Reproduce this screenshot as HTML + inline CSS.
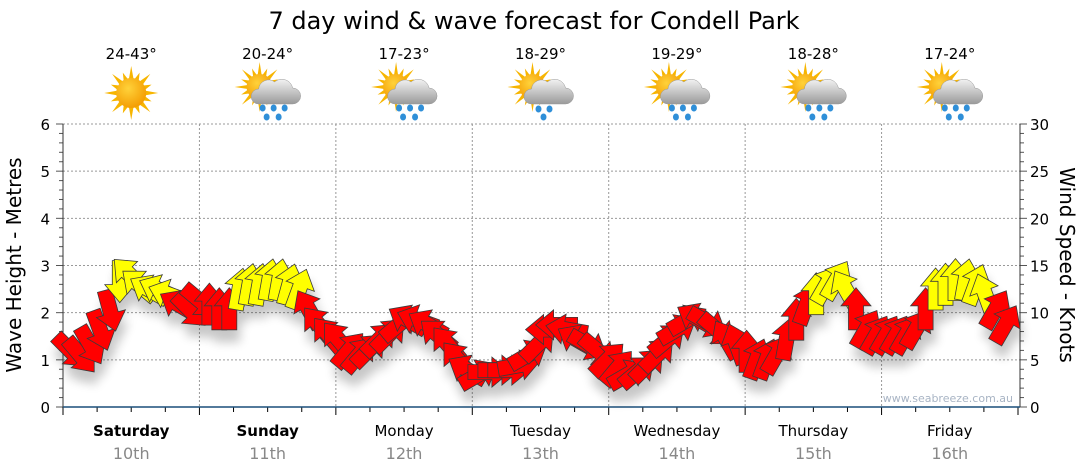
<!DOCTYPE html>
<html><head><meta charset="utf-8">
<style>
html,body{margin:0;padding:0;background:#fff;}
svg{display:block;font-family:"DejaVu Sans","Liberation Sans",sans-serif;}
</style></head>
<body>
<svg id="chart" width="1080" height="475" viewBox="0 0 1080 475" xmlns="http://www.w3.org/2000/svg">
<defs>
  <filter id="shadow" x="-50%" y="-50%" width="200%" height="200%">
    <feGaussianBlur in="SourceAlpha" stdDeviation="5"/>
    <feOffset dx="3" dy="12" result="b"/>
    <feComponentTransfer><feFuncA type="linear" slope="0.22"/></feComponentTransfer>
    <feMerge><feMergeNode/><feMergeNode in="SourceGraphic"/></feMerge>
  </filter>
  <radialGradient id="sunG" cx="40%" cy="35%" r="70%">
    <stop offset="0" stop-color="#ffd23a"/><stop offset="1" stop-color="#f39a00"/>
  </radialGradient>
  <linearGradient id="cloudG" x1="0" y1="0" x2="0" y2="1">
    <stop offset="0" stop-color="#f2f2f2"/><stop offset="1" stop-color="#9a9a9a"/>
  </linearGradient>
</defs>
<text x="534" y="29" text-anchor="middle" font-size="24" fill="#000">7 day wind &amp; wave forecast for Condell Park</text>
<g id="days"></g>
<g id="grid"></g>
<g id="axes"></g>
<text transform="translate(21,265) rotate(-90)" text-anchor="middle" font-size="20" fill="#000">Wave Height - Metres</text>
<text transform="translate(1060,265) rotate(90)" text-anchor="middle" font-size="20" fill="#000">Wind Speed - Knots</text>
<g id="arrows" filter="url(#shadow)"></g>
<text x="1013" y="402" text-anchor="end" font-size="11" fill="#a8b4c4">www.seabreeze.com.au</text>
</svg>
<script>
const dayNames = ["Saturday","Sunday","Monday","Tuesday","Wednesday","Thursday","Friday"];
const dayDates = ["10th","11th","12th","13th","14th","15th","16th"];
const dayBold = [true,true,false,false,false,false,false];
const dayTemps = ["24-43°","20-24°","17-23°","18-29°","19-29°","18-28°","17-24°"];
const dayIcons = ["sun","rain","rain","cloud","rain","rain","rain"];
const leftTicks = [0,1,2,3,4,5,6];
const rightTicks = [0,5,10,15,20,25,30];
// wind speed (knots), one per ~1.75h starting at hour 1.25
const windSpeed = [
 6.0,5.5,6.6,8.2,10.3,13.4,14.0,12.9,12.4,12.4,11.9,10.8,10.3,11.3,
 10.8,10.3,10.3,12.4,12.9,12.9,13.4,13.4,12.9,12.4,10.3,8.7,7.6,
 7.1,6.0,5.5,6.0,7.1,7.6,8.7,9.2,9.2,8.7,7.6,6.6,5.0,3.9,
 3.4,3.7,3.9,3.9,4.4,5.5,6.6,8.2,8.7,8.2,7.1,6.6,6.0,5.0,
 4.1,3.4,3.7,4.4,5.5,7.1,8.2,9.2,9.4,9.0,8.2,7.1,6.6,5.8,
 5.0,5.0,5.5,7.1,9.2,10.8,11.9,12.9,13.4,12.4,10.3,8.2,7.6,
 7.6,7.6,7.6,8.2,10.3,12.4,12.9,13.4,13.4,12.9,11.9,10.3,8.7
];
// direction arrow points toward (deg, 0=up, 90=right)
const windDir = [
 135,140,150,160,165,180,315,310,300,295,290,300,135,130,
 0,0,0,10,10,10,10,10,15,20,330,320,320,
 320,40,40,45,45,45,50,300,290,300,310,320,320,300,
 60,90,90,90,80,60,45,270,270,280,300,120,130,45,
 40,60,50,45,45,50,60,60,300,120,130,330,340,0,
 20,20,30,10,0,20,0,30,30,330,0,30,30,
 30,30,30,30,0,0,0,0,10,20,340,30,30
];
const NS="http://www.w3.org/2000/svg";
const X0=63, X1=1018, Y0=407, Y6=124, HOURS=168;
const xScale = h => X0 + h/HOURS*(X1-X0);
const yLeft = m => Y0 - m/6*(Y0-Y6);
const yRight = k => Y0 - k/30*(Y0-Y6);
function mk(tag, attrs, parent){const e=document.createElementNS(NS,tag);for(const k in attrs)e.setAttribute(k,attrs[k]);parent.appendChild(e);return e;}
const grid=document.getElementById('grid'), axes=document.getElementById('axes'), days=document.getElementById('days'), arrows=document.getElementById('arrows');
leftTicks.forEach(t=>{ if(t>0){const l=mk('line',{x1:X0,x2:1020,y1:yLeft(t),y2:yLeft(t),stroke:'#999','stroke-dasharray':'2,2','stroke-width':1},grid);
 
 }
 const tx=mk('text',{x:50,y:yLeft(t)+6,'text-anchor':'end','font-size':15,fill:'#000'},axes); tx.textContent=t;
 
 
});
rightTicks.forEach(t=>{const tx=mk('text',{x:1030,y:yRight(t)+6,'font-size':15,fill:'#000'},axes); tx.textContent=t;
 
 });
for(let v=0;v<=6.001;v+=0.2){const y=yLeft(v);const big=Math.abs(v-Math.round(v))<0.01;mk('line',{x1:big?56:59,x2:X0,y1:y,y2:y,stroke:'#555','stroke-width':1},axes);}
for(let k=0;k<=30;k++){const y=yRight(k);mk('line',{x1:1020,x2:k%5==0?1027:1024,y1:y,y2:y,stroke:'#555','stroke-width':1},axes);}
for(let d=0;d<=7;d++){const x=xScale(d*24);
 if(d>0&&d<7){const l=mk('line',{x1:x,x2:x,y1:124,y2:Y0,stroke:'#999','stroke-dasharray':'2,2'},grid);
 
 }
 mk('line',{x1:x,x2:x,y1:Y0,y2:Y0+8,stroke:'#000'},axes);}
for(let h=6;h<HOURS;h+=6){if(h%24){const x=xScale(h);mk('line',{x1:x,x2:x,y1:Y0,y2:Y0+5,stroke:'#000'},axes);}}
mk('line',{x1:X0,x2:X0,y1:124,y2:Y0,stroke:'#333'},axes);
mk('line',{x1:1020,x2:1020,y1:124,y2:Y0,stroke:'#333'},axes);
mk('line',{x1:X0,x2:1020,y1:Y0,y2:Y0,stroke:'#1a4f7a','stroke-width':1.5},axes);
function icon(g,cx,cy,type){
 const sx=type==='sun'?cx:cx-8, sy=type==='sun'?cy:cy-6, r=type==='sun'?15:13;
 for(let i=0;i<16;i++){const a=i*Math.PI/8, L=(i%2?r+7:r+12);
  const p=[[sx+Math.cos(a-0.17)*(r-1),sy+Math.sin(a-0.17)*(r-1)],[sx+Math.cos(a)*L,sy+Math.sin(a)*L],[sx+Math.cos(a+0.17)*(r-1),sy+Math.sin(a+0.17)*(r-1)]];
  mk('polygon',{points:p.map(q=>q.join(',')).join(' '),fill:'#f7b500'},g);}
 mk('circle',{cx:sx,cy:sy,r:r,fill:'url(#sunG)'},g);
 if(type!=='sun'){
  mk('path',{d:`M${cx-9} ${cy+11} h34 a8 8 0 0 0 0-16 a11 11 0 0 0-18-6 a10 10 0 0 0-16 7 a7.5 7.5 0 0 0 0 15z`,fill:'url(#cloudG)',stroke:'#999','stroke-width':0.5},g);
  if(type==='rain'){[[cx-5,cy+15],[cx+6,cy+15],[cx+17,cy+15],[cx-1,cy+24],[cx+11,cy+24]].forEach(p=>mk('ellipse',{cx:p[0],cy:p[1],rx:3,ry:3.5,fill:'#2f8fd8'},g));}
  else {[[cx-2,cy+16],[cx+9,cy+16],[cx+3,cy+24]].forEach(p=>mk('ellipse',{cx:p[0],cy:p[1],rx:3,ry:3.5,fill:'#2f8fd8'},g));}
 }
}
dayNames.forEach((n,i)=>{const cx=xScale(i*24+12);
 const g=mk('g',{},days);
 
 
 const t=mk('text',{x:cx,y:59,'text-anchor':'middle','font-size':15,fill:'#000'},g); t.textContent=dayTemps[i];
 
 
 const ig=mk('g',{},g);
 
 
 icon(ig,cx,93,dayIcons[i]);
 const dn=mk('text',{x:cx,y:436,'text-anchor':'middle','font-size':15,'font-weight':dayBold[i]?'bold':'normal',fill:'#000'},g); dn.textContent=n;
 
 
 const dd=mk('text',{x:cx,y:459,'text-anchor':'middle','font-size':16,fill:'#888'},g); dd.textContent=dayDates[i];
 
 
});
const arrowPts="0,-22 15,-4 7.5,-4 7.5,20 -7.5,20 -7.5,-4 -15,-4";
windSpeed.forEach((k,i)=>{
 const h=1.25+i*1.75; const x=xScale(h), y=yRight(k);
 const p=mk('polygon',{points:arrowPts,transform:`translate(${x.toFixed(1)},${y.toFixed(1)}) rotate(${windDir[i]})`,fill:k>=11.5?'#ffff00':'#ff0000',stroke:'#3a3a3a','stroke-width':0.8,'stroke-linejoin':'miter'},arrows);
 
 
});
</script>
</body></html>
